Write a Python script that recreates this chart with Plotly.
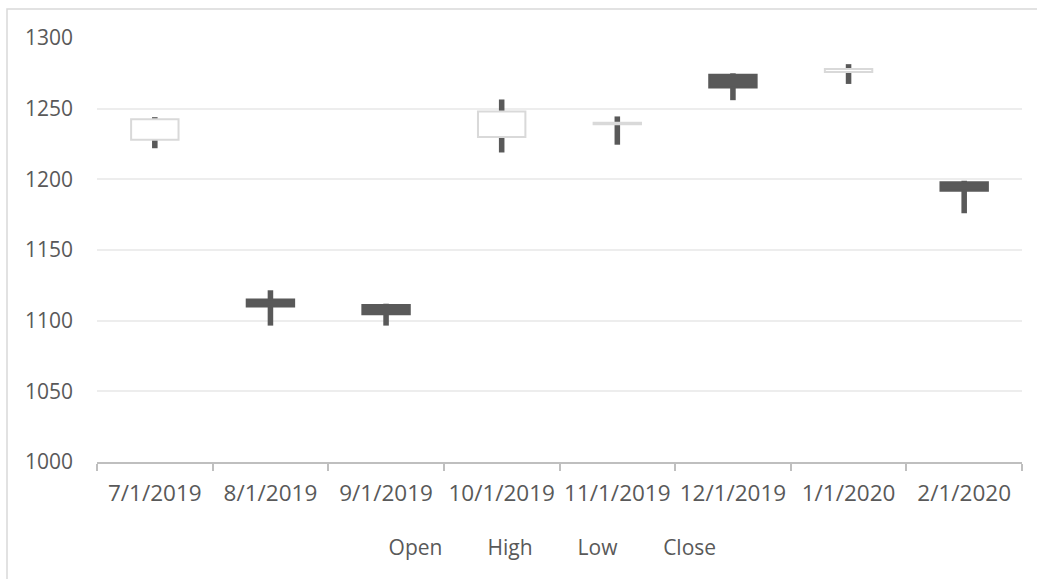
import plotly.graph_objects as go

# Monthly OHLC prices
dates = ["7/1/2019", "8/1/2019", "9/1/2019", "10/1/2019",
         "11/1/2019", "12/1/2019", "1/1/2020", "2/1/2020"]
open_ = [1228, 1115, 1111, 1230, 1239, 1274, 1276, 1198]
high = [1244, 1121.5, 1112, 1256.5, 1244.5, 1275, 1281.5, 1199]
low = [1222, 1096.5, 1096.5, 1219, 1224.5, 1256, 1267.5, 1176]
close = [1242.5, 1110, 1104.5, 1248, 1240, 1265, 1278, 1192]

y_ticks = [1000, 1050, 1100, 1150, 1200, 1250, 1300]

DARK = "#595959"
LIGHT = "#D9D9D9"
TEXT = "#595959"

up = [c >= o for o, c in zip(open_, close)]

fig = go.Figure()

# High-low wicks
fig.add_trace(go.Bar(
    x=dates,
    base=low,
    y=[h - l for h, l in zip(high, low)],
    width=0.048,
    marker=dict(color=DARK, line=dict(width=0)),
    showlegend=False,
    hoverinfo="skip",
))

# Open-close bodies: white for rising months, dark for falling ones
fig.add_trace(go.Bar(
    x=dates,
    base=[min(o, c) for o, c in zip(open_, close)],
    y=[abs(c - o) for o, c in zip(open_, close)],
    width=0.41,
    marker=dict(
        color=["#FFFFFF" if u else DARK for u in up],
        line=dict(color=[LIGHT if u else DARK for u in up], width=2),
    ),
    showlegend=False,
    hoverinfo="skip",
))

# Series names for the legend
for name in ["Open", "High", "Low", "Close"]:
    fig.add_trace(go.Scatter(
        x=[None], y=[None], name=name, mode="lines",
        line=dict(width=0, color="rgba(0,0,0,0)"),
    ))

fig.update_layout(
    width=1037,
    height=579,
    margin=dict(l=97, r=15, t=37.5, b=117),
    paper_bgcolor="white",
    plot_bgcolor="white",
    barmode="overlay",
    font=dict(family="Open Sans", size=21, color=TEXT),
    legend=dict(
        orientation="h",
        x=0.272, xanchor="left",
        y=-0.2, yanchor="middle",
        font=dict(size=21, color=TEXT),
        itemwidth=30,
        bgcolor="rgba(0,0,0,0)",
    ),
    xaxis=dict(
        type="category",
        categoryorder="array",
        categoryarray=dates,
        showgrid=False,
        showline=True,
        linecolor="#BFBFBF",
        linewidth=1.5,
        ticks="outside",
        tickson="boundaries",
        ticklen=7,
        tickcolor="#BFBFBF",
        tickwidth=1.5,
        tickangle=0,
        automargin=False,
        ticklabelstandoff=10,
        tickfont=dict(size=22.5, color=TEXT),
        fixedrange=True,
    ),
    yaxis=dict(
        range=[1000, 1300],
        tickvals=y_ticks,
        showgrid=True,
        gridcolor="#EDEDED",
        gridwidth=1.5,
        zeroline=False,
        showline=False,
        ticks="",
        automargin=False,
        ticklabelstandoff=23,
        tickfont=dict(size=21, color=TEXT),
        fixedrange=True,
    ),
    shapes=[
        # outer chart frame
        dict(type="rect", xref="paper", yref="paper",
             x0=(7 - 97) / 925, x1=(1045 - 97) / 925,
             y0=(462 - 590) / 424.5, y1=(462 - 8.5) / 424.5,
             line=dict(color=LIGHT, width=1.5), fillcolor="rgba(0,0,0,0)",
             layer="below"),
    ],
)

fig.write_html("out.html")
